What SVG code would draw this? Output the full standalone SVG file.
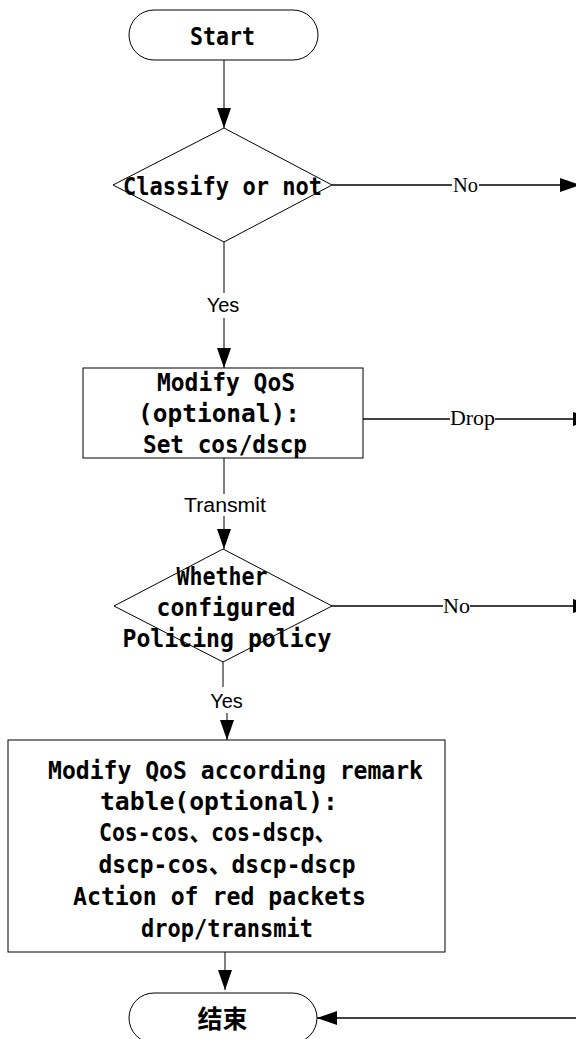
<svg xmlns="http://www.w3.org/2000/svg" width="576" height="1039" viewBox="0 0 576 1039">
<style>
.shape{fill:#fff;stroke:#000;stroke-width:1}
.t{font-family:"DejaVu Sans Mono","Noto Sans CJK SC",monospace;font-size:25px;font-weight:bold;fill:#000;text-anchor:middle}
.cjk{font-family:"Noto Sans CJK SC",sans-serif;font-size:25px;font-weight:bold;fill:#000;text-anchor:middle}
.lbl{font-family:"Liberation Sans",Arial,sans-serif;font-size:20px;fill:#000;text-anchor:middle}
.lblr{font-family:"Liberation Serif","Times New Roman",serif;font-size:21px;fill:#000}
.v{fill:none;stroke:#000;stroke-width:1}
.h{fill:none;stroke:#000;stroke-width:1.6}
</style>
<defs>
<marker id="arr" viewBox="0 0 20 14" refX="20" refY="7" markerWidth="20" markerHeight="14" markerUnits="userSpaceOnUse" orient="auto">
<path d="M0,0 L20,7 L0,14 Z" fill="#000"/>
</marker>
</defs>
<g id="connectors">
<path class="v" d="M224,60 V128" marker-end="url(#arr)"/>
<path class="v" d="M224,242 V293"/>
<path class="v" d="M224,318 V368" marker-end="url(#arr)"/>
<path class="h" d="M332,185 H452"/>
<path class="h" d="M479,185 H580" marker-end="url(#arr)"/>
<path class="h" d="M363,419 H450"/>
<path class="h" d="M495,419 H593" marker-end="url(#arr)"/>
<path class="v" d="M224,458 V494"/>
<path class="v" d="M224,516 V549" marker-end="url(#arr)"/>
<path class="h" d="M332,606 H443"/>
<path class="h" d="M470,606 H593" marker-end="url(#arr)"/>
<path class="v" d="M223,662 V687"/>
<path class="v" d="M227,713 V740" marker-end="url(#arr)"/>
<path class="v" d="M225,952 V990" marker-end="url(#arr)"/>
<path class="h" d="M576,1018 H317" marker-end="url(#arr)"/>
<text class="lblr" x="453" y="192" textLength="25" lengthAdjust="spacingAndGlyphs">No</text>
<text class="lbl" x="223" y="312">Yes</text>
<text class="lblr" x="450" y="425" textLength="45" lengthAdjust="spacingAndGlyphs">Drop</text>
<text class="lbl" x="225" y="512" textLength="82" lengthAdjust="spacingAndGlyphs">Transmit</text>
<text class="lblr" x="443" y="613" textLength="27" lengthAdjust="spacingAndGlyphs">No</text>
<text class="lbl" x="226.5" y="708">Yes</text>
</g>
<g id="start">
<rect class="shape" x="129" y="10" width="189" height="50" rx="25" ry="25"/>
<text class="t" x="222.5" y="45" textLength="65" lengthAdjust="spacingAndGlyphs">Start</text>
</g>
<g id="classify">
<polygon class="shape" points="224,128 332,185 224,242 113,185"/>
<text class="t" x="222.5" y="195" textLength="199" lengthAdjust="spacingAndGlyphs">Classify or not</text>
</g>
<g id="modify-qos">
<rect class="shape" x="83" y="368" width="280" height="90"/>
<text class="t" x="226" y="391" textLength="138" lengthAdjust="spacingAndGlyphs">Modify QoS</text>
<text class="t" x="219" y="422" textLength="162" lengthAdjust="spacingAndGlyphs">(optional):</text>
<text class="t" x="225" y="453" textLength="164" lengthAdjust="spacingAndGlyphs">Set cos/dscp</text>
</g>
<g id="policing">
<polygon class="shape" points="223,549 332,606 223,662 114,606"/>
<text class="t" x="222" y="585" textLength="91" lengthAdjust="spacingAndGlyphs">Whether</text>
<text class="t" x="226" y="616" textLength="139" lengthAdjust="spacingAndGlyphs">configured</text>
<text class="t" x="227" y="647" textLength="209" lengthAdjust="spacingAndGlyphs">Policing policy</text>
</g>
<g id="remark">
<rect class="shape" x="8" y="740" width="437" height="212"/>
<text class="t" x="235.5" y="779" textLength="375" lengthAdjust="spacingAndGlyphs">Modify QoS according remark</text>
<text class="t" x="219" y="810" textLength="238" lengthAdjust="spacingAndGlyphs">table(optional):</text>
<text class="t" x="217.5" y="841" textLength="237" lengthAdjust="spacingAndGlyphs">Cos-cos、cos-dscp、</text>
<text class="t" x="227" y="873" textLength="257" lengthAdjust="spacingAndGlyphs">dscp-cos、dscp-dscp</text>
<text class="t" x="219.5" y="905" textLength="293" lengthAdjust="spacingAndGlyphs">Action of red packets</text>
<text class="t" x="227" y="937" textLength="172" lengthAdjust="spacingAndGlyphs">drop/transmit</text>
</g>
<g id="end">
<rect class="shape" x="129" y="993" width="188" height="50" rx="25" ry="25"/>
<text class="cjk" x="222.5" y="1028">结束</text>
</g>
</svg>
